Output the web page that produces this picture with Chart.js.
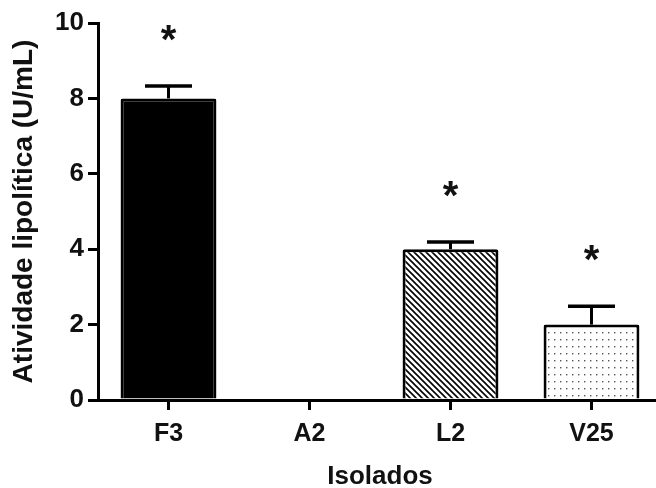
<!DOCTYPE html>
<html>
<head>
<meta charset="utf-8">
<script src="https://cdn.jsdelivr.net/npm/chart.js@4.4.0/dist/chart.umd.min.js"></script>
<style>
html,body{margin:0;padding:0;background:#fff;overflow:hidden;}
#wrap{width:672px;height:488px;position:relative;}
</style>
</head>
<body>
<div id="wrap"><canvas id="c" width="672" height="488"></canvas></div>
<script>
const categories = ["F3", "A2", "L2", "V25"];
const means = [8.0, 0, 4.0, 2.0];
const errors = [0.33, 0, 0.19, 0.49];
const significant = [true, false, true, true];
const yTicks = [0, 2, 4, 6, 8, 10];
const yTitle = "Atividade lipolítica (U/mL)";
const xTitle = "Isolados";

const FONT = '"Liberation Sans", Arial, sans-serif';

function hatchPattern() {
  const s = 6;
  const c = document.createElement('canvas');
  c.width = s; c.height = s;
  const g = c.getContext('2d');
  g.fillStyle = '#fff'; g.fillRect(0,0,s,s);
  g.strokeStyle = '#000'; g.lineWidth = 1.6;
  g.beginPath();
  g.moveTo(-1,-1); g.lineTo(s+1,s+1);
  g.moveTo(-1,s-1); g.lineTo(1,s+1);
  g.moveTo(s-1,-1); g.lineTo(s+1,1);
  g.stroke();
  return g.createPattern(c,'repeat');
}
function dotPattern() {
  const c = document.createElement('canvas');
  c.width = 6; c.height = 7;
  const g = c.getContext('2d');
  g.fillStyle = '#fff'; g.fillRect(0,0,6,7);
  g.fillStyle = '#555';
  g.fillRect(2,3,1.4,1.4);
  return g.createPattern(c,'repeat');
}
const ctx = document.getElementById('c').getContext('2d');
const fills = ['#000', '#fff', hatchPattern(), dotPattern()];

const errPlugin = {
  id: 'errbars',
  afterDatasetsDraw(chart) {
    const g = chart.ctx;
    const y = chart.scales.y;
    const meta = chart.getDatasetMeta(0);
    g.save();
    g.strokeStyle = '#000';
    g.fillStyle = '#111';
    meta.data.forEach((bar, i) => {
      if (means[i] <= 0) return;
      const cx = bar.x;
      const yTop = y.getPixelForValue(means[i]);
      const yErr = y.getPixelForValue(means[i] + errors[i]);
      g.lineWidth = 3;
      g.beginPath(); g.moveTo(cx, yTop); g.lineTo(cx, yErr); g.stroke();
      g.lineWidth = 3.5;
      g.beginPath(); g.moveTo(cx - 23.5, yErr); g.lineTo(cx + 23.5, yErr); g.stroke();
      if (significant[i]) {
        const fs = 40;
        g.font = 'bold ' + fs + 'px ' + FONT;
        g.textAlign = 'center';
        g.textBaseline = 'alphabetic';
        g.fillText('*', cx, yErr - 56 + 0.57 * fs);
      }
    });
    g.restore();
  }
};

new Chart(ctx, {
  type: 'bar',
  data: {
    labels: categories,
    datasets: [{
      data: means,
      backgroundColor: fills,
      borderColor: '#000',
      borderWidth: 3,
      borderSkipped: 'bottom',
      borderRadius: 2,
      categoryPercentage: 1.0,
      barPercentage: 0.68
    }]
  },
  options: {
    responsive: false,
    animation: false,
    layout: { padding: { top: 23, right: 10, left: 0, bottom: 0 } },
    plugins: { legend: { display: false }, tooltip: { enabled: false } },
    scales: {
      x: {
        grid: { display: true, offset: false, drawOnChartArea: false, drawTicks: true, tickLength: 10, lineWidth: 3, color: '#000' },
        border: { display: true, color: '#000', width: 3 },
        ticks: { color: '#111', font: { family: FONT, size: 25, weight: 'bold' }, padding: 9 },
        title: { display: true, text: xTitle, color: '#111', font: { family: FONT, size: 26, weight: 'bold' }, padding: { top: 10, bottom: -4 } },
        afterFit(s) { s.height = 88; }
      },
      y: {
        min: 0, max: 10,
        afterBuildTicks(s) { s.ticks = yTicks.map(v => ({ value: v })); },
        grid: { display: true, drawOnChartArea: false, drawTicks: true, tickLength: 10, lineWidth: 3, color: '#000' },
        border: { display: true, color: '#000', width: 3 },
        ticks: { color: '#111', font: { family: FONT, size: 26, weight: 'bold' }, padding: 4 },
        title: { display: true, text: yTitle, color: '#111', font: { family: FONT, size: 28, weight: 'bold' }, padding: { top: 7, bottom: 8 } },
        afterFit(s) { s.width = 98; }
      }
    }
  },
  plugins: [errPlugin]
});
</script>
</body>
</html>
